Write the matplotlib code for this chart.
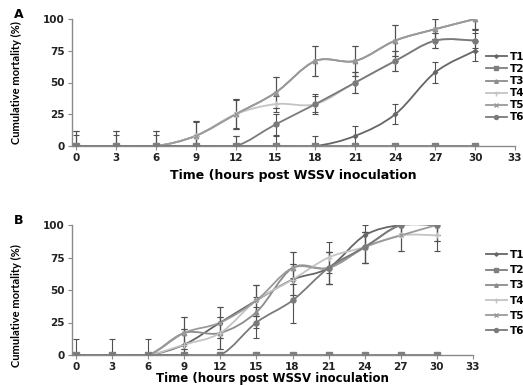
import numpy as np
import matplotlib
matplotlib.use("Agg")
import matplotlib.pyplot as plt
from matplotlib.path import Path
from matplotlib.patches import PathPatch
from matplotlib.lines import Line2D

# ---- data -------------------------------------------------------------
hours = [0, 3, 6, 9, 12, 15, 18, 21, 24, 27, 30]
series_names = ["T1", "T2", "T3", "T4", "T5", "T6"]
x_ticks = [0, 3, 6, 9, 12, 15, 18, 21, 24, 27, 30, 33]
y_ticks = [0, 25, 50, 75, 100]

# panel A: cumulative mortality (%)
a_t1 = [0, 0, 0, 0, 0, 0, 0, 8, 25, 58, 75]
a_t2 = [0, 0, 0, 0, 0, 0, 0, 0, 0, 0, 0]
a_t3 = [0, 0, 0, 8, 25, 42, 67, 67, 83, 92, 100]
a_t4 = [0, 0, 0, 8, 25, 33, 33, 50, 67, 83, 83]
a_t5 = [0, 0, 0, 8, 25, 42, 67, 67, 83, 92, 100]
a_t6 = [0, 0, 0, 0, 0, 17, 33, 50, 67, 83, 83]
# panel A: error bars
a_e1 = [9, 9, 9, 8, 8, 8, 8, 8, 8, 8, 8]
a_e2 = [0, 0, 0, 0, 0, 0, 0, 0, 0, 0, 0]
a_e3 = [12, 12, 12, 12, 12, 12, 12, 12, 12, 8, 8]
a_e4 = [12, 12, 12, 11, 11, 6, 6, 8, 8, 6, 6]
a_e5 = [0, 0, 0, 12, 12, 12, 12, 12, 12, 8, 8]
a_e6 = [0, 0, 0, 0, 8, 8, 8, 8, 8, 6, 8]

# panel B: cumulative mortality (%)
b_t1 = [0, 0, 0, 8, 25, 42, 58, 67, 92, 100, 100]
b_t2 = [0, 0, 0, 0, 0, 0, 0, 0, 0, 0, 0]
b_t3 = [0, 0, 0, 17, 17, 33, 67, 67, 83, 100, 100]
b_t4 = [0, 0, 0, 8, 17, 42, 58, 75, 83, 92, 92]
b_t5 = [0, 0, 0, 17, 25, 42, 67, 67, 83, 92, 100]
b_t6 = [0, 0, 0, 0, 0, 25, 42, 67, 83, 100, 100]
# panel B: error bars
b_e1 = [12, 12, 12, 12, 12, 12, 12, 12, 8, 8, 8]
b_e2 = [0, 0, 0, 0, 0, 0, 0, 0, 0, 0, 0]
b_e3 = [0, 0, 0, 12, 12, 12, 12, 12, 12, 8, 8]
b_e4 = [0, 0, 0, 12, 12, 12, 12, 12, 12, 12, 12]
b_e5 = [0, 0, 0, 12, 12, 12, 12, 12, 12, 12, 12]
b_e6 = [0, 0, 0, 0, 0, 12, 17, 12, 12, 8, 12]

# ---- styling ------------------------------------------------------------
colors = ["#666666", "#7f7f7f", "#8c8c8c", "#c4c4c4", "#9a9a9a", "#7a7a7a"]
markers = ["D", "s", "^", "+", "x", "o"]
msizes = [2.2, 4.0, 3.2, 4.5, 3.5, 3.6]

plt.rcParams["font.family"] = ["DejaVu Sans"]

W, H = 523, 385
fig = plt.figure(figsize=(W / 100, H / 100), dpi=100)


def smooth_path(xs, ys):
    """Catmull-Rom style smoothed path through the points (cubic Beziers)."""
    pts = np.column_stack([xs, ys]).astype(float)
    n = len(pts)
    verts = [pts[0]]
    codes = [Path.MOVETO]
    for i in range(n - 1):
        p0 = pts[i - 1] if i > 0 else pts[i]
        p1 = pts[i]
        p2 = pts[i + 1]
        p3 = pts[i + 2] if i + 2 < n else pts[i + 1]
        c1 = p1 + (p2 - p0) / 6.0
        c2 = p2 - (p3 - p1) / 6.0
        verts += [c1, c2, p2]
        codes += [Path.CURVE4] * 3
    return Path(verts, codes)


def draw_panel(rect, xlim, values, errors, letter, letter_xy, legend_xy,
               spacing, xlabel_pad, xlabel_size, ylabel_y):
    ax = fig.add_axes(rect)
    ax.set_xlim(*xlim)
    ax.set_ylim(0, 100)
    for i, (vals, errs) in enumerate(zip(values, errors)):
        ax.add_patch(PathPatch(smooth_path(hours, vals), facecolor="none",
                               edgecolor=colors[i], lw=1.3, zorder=3))
        ax.errorbar(hours, vals, yerr=errs, fmt="none", ecolor="#505050",
                    elinewidth=0.8, capsize=2.5, capthick=0.8, zorder=2)
        ax.plot(hours, vals, linestyle="none", marker=markers[i], ms=msizes[i],
                color=colors[i], mec=colors[i], mew=1.0, zorder=4)
    for s in ["top", "right"]:
        ax.spines[s].set_visible(False)
    for s in ["left", "bottom"]:
        ax.spines[s].set_color("#8a8a8a")
        ax.spines[s].set_linewidth(1.0)
    ax.set_xticks(x_ticks)
    ax.set_yticks(y_ticks)
    ax.tick_params(axis="both", colors="#8a8a8a", length=3, width=0.8,
                   labelcolor="#222222", labelsize=7.5, pad=2)
    for lab in ax.get_xticklabels() + ax.get_yticklabels():
        lab.set_fontweight("bold")
    ax.set_ylabel("Cumulative mortality (%)", fontsize=8, fontweight="bold",
                  family=["Lato", "DejaVu Sans"])
    ax.yaxis.set_label_coords(-50 / (rect[2] * W), ylabel_y)
    ax.set_xlabel("Time (hours post WSSV inoculation", fontsize=xlabel_size,
                  fontweight="bold", labelpad=xlabel_pad)
    fig.text(letter_xy[0] / W, 1 - letter_xy[1] / H, letter, fontsize=9,
             fontweight="bold", ha="left", va="center")
    handles = [Line2D([], [], color=colors[i], marker=markers[i],
                      ms=msizes[i] * 0.8, lw=1.3) for i in range(6)]
    fig.legend(handles, series_names, loc="upper left",
               bbox_to_anchor=(legend_xy[0] / W, 1 - legend_xy[1] / H),
               frameon=False, handlelength=2.0,
               handletextpad=0.25, labelspacing=spacing, borderpad=0,
               borderaxespad=0, prop={"weight": "bold", "size": 7.5})
    return ax


panel_a = draw_panel([72 / W, 1 - 146 / H, 443 / W, 127 / H], (-0.3, 33),
                     [a_t1, a_t2, a_t3, a_t4, a_t5, a_t6],
                     [a_e1, a_e2, a_e3, a_e4, a_e5, a_e6],
                     "A", (14, 15), (486, 52), 0.2, 4, 9, 0.5)
panel_b = draw_panel([72 / W, 1 - 355 / H, 401 / W, 130 / H], (-0.33, 33),
                     [b_t1, b_t2, b_t3, b_t4, b_t5, b_t6],
                     [b_e1, b_e2, b_e3, b_e4, b_e5, b_e6],
                     "B", (14, 221), (486, 250), 0.5, 0, 8.5, 0.38)

fig.savefig("out.png", dpi=100)
